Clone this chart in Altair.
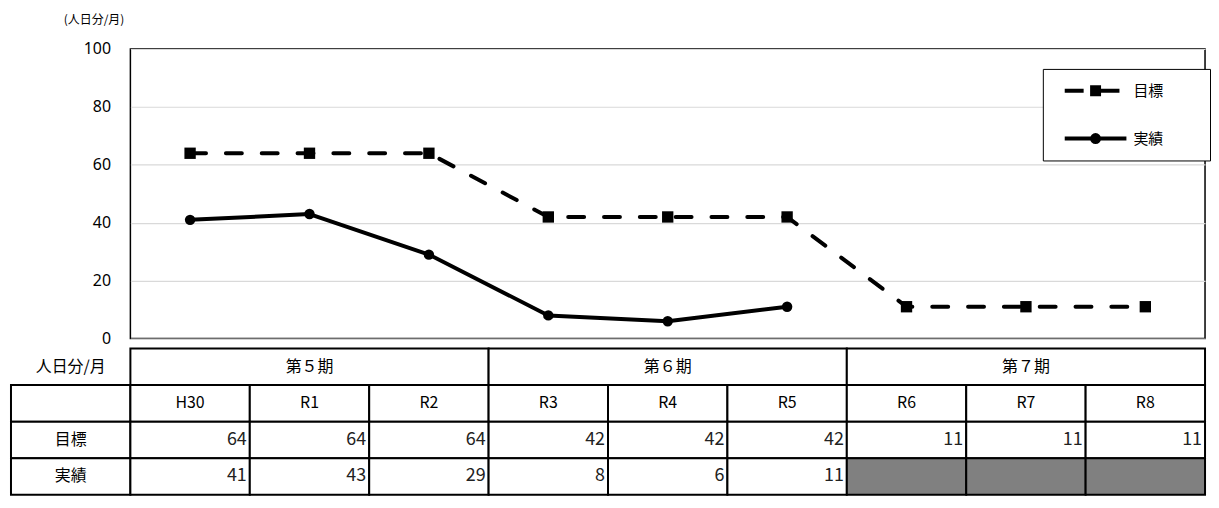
import altair as alt
import pandas as pd

FONT = "Noto Sans CJK JP"

years = ["H30", "R1", "R2", "R3", "R4", "R5", "R6", "R7", "R8"]
target = [64, 64, 64, 42, 42, 42, 11, 11, 11]
actual = [41, 43, 29, 8, 6, 11]
series_names = ["目標", "実績"]
periods = ["第５期", "第６期", "第７期"]
period_span = 3
unit_label = "人日分/月"
y_title = "(人日分/月)"
y_ticks = [0, 20, 40, 60, 80, 100]

W = 1080

# ---------- line chart ----------
rows = []
for i, y in enumerate(years):
    rows.append({"year": y, "series": "目標", "value": target[i]})
for i, v in enumerate(actual):
    rows.append({"year": years[i], "series": "実績", "value": v})
line_df = pd.DataFrame(rows)

x_enc = alt.X("year:O", sort=years, scale=alt.Scale(type="point", padding=0.5), axis=None)
y_axis = alt.Axis(
    values=y_ticks, domain=False, ticks=False, labelPadding=20,
    labelFontSize=16, labelColor="black", labelFont="Noto Sans",
    gridColor="#d9d9d9", gridWidth=1.2,
    title=y_title, titleAngle=0, titleX=-37, titleY=-30,
    titleAlign="center", titleBaseline="middle", titleFontSize=12,
    titleFontWeight="normal", titleFont=FONT, titleColor="black",
)
y_enc = alt.Y("value:Q", scale=alt.Scale(domain=[0, 100], nice=False), axis=y_axis)
y_enc_noaxis = alt.Y("value:Q", scale=alt.Scale(domain=[0, 100], nice=False))

base = alt.Chart(line_df)
t_line = base.transform_filter(alt.datum.series == "目標").mark_line(
    color="black", strokeWidth=4, strokeDash=[16, 20], strokeCap="round"
).encode(x=x_enc, y=y_enc)
t_pts = base.transform_filter(alt.datum.series == "目標").mark_point(
    shape="square", filled=True, color="black", size=130, opacity=1
).encode(x=x_enc, y=y_enc_noaxis)
a_line = base.transform_filter(alt.datum.series == "実績").mark_line(
    color="black", strokeWidth=4, strokeCap="round", strokeJoin="round"
).encode(x=x_enc, y=y_enc_noaxis)
a_pts = base.transform_filter(alt.datum.series == "実績").mark_point(
    shape="circle", filled=True, color="black", size=110, opacity=1
).encode(x=x_enc, y=y_enc_noaxis)

sym_target = "M0,0H1.9M2.75,-0.35H3.45V0.35H2.75ZM3.45,0H5.5"
sym_actual = "M0,0H6.2M2.75,0A0.35,0.35 0 1,1 3.45,0A0.35,0.35 0 1,1 2.75,0Z"

legend_layer = base.transform_filter("false").mark_point(
    filled=False, fill="black", stroke="black", strokeWidth=4, opacity=1
).encode(
    shape=alt.Shape(
        "series:N",
        scale=alt.Scale(domain=series_names, range=[sym_target, sym_actual]),
        legend=alt.Legend(
            title="目標", titleOrient="right", titleOpacity=0, titleFontSize=15,
            titlePadding=6, titleFont=FONT,
            orient="none", legendX=917, legendY=20,
            padding=10, strokeColor="black", fillColor="white",
            symbolSize=400, symbolStrokeWidth=4, symbolOpacity=1,
            rowPadding=24, labelOffset=57, labelFontSize=15,
            labelFont=FONT, labelColor="black",
        ),
    )
)

top = alt.layer(t_line, a_line, t_pts, a_pts, legend_layer).properties(
    width=W, height=291,
    view=alt.ViewBackground(stroke="black", strokeWidth=1.5),
)

# ---------- table ----------
cells = []
cells.append({"x0": 0, "x1": 1, "y0": 0, "y1": 1, "text": unit_label, "fill": "white", "sw": 0, "kind": "c"})
for k, p in enumerate(periods):
    cells.append({"x0": 1 + k * period_span, "x1": 1 + (k + 1) * period_span, "y0": 0, "y1": 1,
                  "text": p, "fill": "white", "sw": 2, "kind": "c"})
cells.append({"x0": 0, "x1": 1, "y0": 1, "y1": 2, "text": "", "fill": "white", "sw": 2, "kind": "c"})
for i, y in enumerate(years):
    cells.append({"x0": i + 1, "x1": i + 2, "y0": 1, "y1": 2, "text": y, "fill": "white", "sw": 2, "kind": "c"})
cells.append({"x0": 0, "x1": 1, "y0": 2, "y1": 3, "text": series_names[0], "fill": "white", "sw": 2, "kind": "c"})
for i, v in enumerate(target):
    cells.append({"x0": i + 1, "x1": i + 2, "y0": 2, "y1": 3, "text": str(v), "fill": "white", "sw": 2, "kind": "n"})
cells.append({"x0": 0, "x1": 1, "y0": 3, "y1": 4, "text": series_names[1], "fill": "white", "sw": 2, "kind": "c"})
for i in range(len(years)):
    if i < len(actual):
        cells.append({"x0": i + 1, "x1": i + 2, "y0": 3, "y1": 4, "text": str(actual[i]), "fill": "white", "sw": 2, "kind": "n"})
    else:
        cells.append({"x0": i + 1, "x1": i + 2, "y0": 3, "y1": 4, "text": "", "fill": "#808080", "sw": 2, "kind": "n"})
cell_df = pd.DataFrame(cells)
cell_df["xm"] = (cell_df["x0"] + cell_df["x1"]) / 2
cell_df["ym"] = (cell_df["y0"] + cell_df["y1"]) / 2

# data columns 1..10 span the plot width; the label column (0..1) sits to the left
xs = alt.Scale(domain=[1, 10], nice=False, zero=False)
ys = alt.Scale(domain=[0, 4], nice=False, zero=False, reverse=True)

tb = alt.Chart(cell_df)
rects = tb.mark_rect(stroke="black").encode(
    x=alt.X("x0:Q", scale=xs, axis=None), x2="x1:Q",
    y=alt.Y("y0:Q", scale=ys, axis=None), y2="y1:Q",
    fill=alt.Fill("fill:N", scale=None),
    strokeWidth=alt.StrokeWidth("sw:Q", scale=None),
)
ctext = tb.transform_filter(alt.datum.kind == "c").mark_text(
    fontSize=16, font=FONT, color="black", align="center", baseline="middle"
).encode(
    x=alt.X("xm:Q", scale=xs, axis=None),
    y=alt.Y("ym:Q", scale=ys, axis=None),
    text="text:N",
)
ntext = tb.transform_filter(alt.datum.kind == "n").mark_text(
    fontSize=18, font=FONT, color="#222", align="right", baseline="middle", dx=-3
).encode(
    x=alt.X("x1:Q", scale=xs, axis=None),
    y=alt.Y("ym:Q", scale=ys, axis=None),
    text="text:N",
)
table = alt.layer(rects, ctext, ntext).properties(
    width=W, height=147, view=alt.ViewBackground(stroke=None)
)

chart = alt.vconcat(top, table, spacing=0).properties(
    padding={"left": 2, "top": 3, "right": 0, "bottom": 0}
).configure(font=FONT)

chart.save("out.html", embed_options={"renderer": "svg", "actions": False})
